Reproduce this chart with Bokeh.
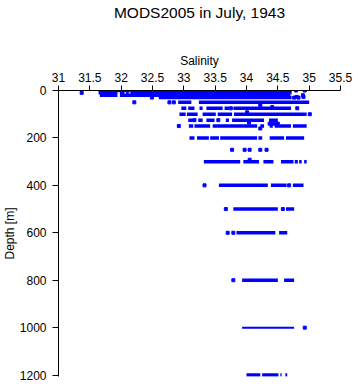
from bokeh.plotting import figure
from bokeh.models import Range1d, FixedTicker, Title
from bokeh.embed import file_html
from bokeh.resources import INLINE

# ---- data ----
x_ticks = [31, 31.5, 32, 32.5, 33, 33.5, 34, 34.5, 35, 35.5]
x_tick_labels = ["31", "31.5", "32", "32.5", "33", "33.5", "34", "34.5", "35", "35.5"]
y_ticks = [0, 200, 400, 600, 800, 1000, 1200]

# dense runs of observations: depth, salinity from, salinity to
seg_depth = [0,
             10, 10, 10, 10,
             20, 20,
             30,
             50, 50,
             75, 75, 75, 75, 75, 75,
             100, 100, 100, 100, 100,
             125, 125, 125, 125, 125, 125,
             150, 150, 150, 150, 150, 150, 150,
             200, 200, 200, 200, 200, 200, 200,
             300, 300, 300, 300, 300, 300, 300,
             400, 400, 400,
             500, 500,
             600, 600,
             800, 800,
             1200, 1200, 1200, 1200]
seg_s0 = [31.64,
          31.64, 31.98, 32.08, 32.15,
          31.66, 31.98,
          32.60,
          32.91, 33.24,
          32.96, 33.07, 33.25, 33.36, 33.65, 33.79,
          32.93, 33.05, 33.30, 33.54, 33.80,
          33.07, 33.23, 33.36, 33.67, 33.77, 34.36,
          33.08, 33.17, 33.46, 34.22, 34.37, 34.45, 34.74,
          33.09, 33.21, 33.42, 33.58, 34.19, 34.37, 34.63,
          33.32, 33.95, 34.27, 34.55, 34.77, 34.84, 34.92,
          33.56, 34.39, 34.74,
          33.79, 34.63,
          33.84, 34.52,
          33.93, 34.60,
          34.00, 34.25, 34.54, 34.62]
seg_s1 = [34.72,
          31.94, 32.05, 32.12, 34.72,
          31.94, 34.70,
          34.72,
          33.12, 35.00,
          33.04, 33.17, 33.30, 33.62, 33.72, 34.71,
          33.03, 33.22, 33.51, 33.77, 34.96,
          33.15, 33.30, 33.49, 33.72, 34.28, 34.50,
          33.15, 33.42, 34.17, 34.28, 34.42, 34.71, 34.96,
          33.17, 33.40, 33.56, 34.17, 34.25, 34.60, 34.92,
          33.90, 34.20, 34.43, 34.75, 34.82, 34.88, 34.96,
          34.34, 34.64, 34.91,
          34.50, 34.76,
          34.46, 34.65,
          34.50, 34.76,
          34.22, 34.51, 34.56, 34.65]

# the 1000 m run is drawn thinner
deep_depth = [1000]
deep_s0 = [33.93]
deep_s1 = [34.76]

# isolated observations
pt_depth = [10, 0, 0, 20, 27, 27, 30, 30, 30,
            50, 50, 50, 62, 70,
            75, 75, 92, 100,
            125, 125, 135, 140, 140, 140, 140, 160,
            150,
            250, 250, 250, 250, 250,
            292,
            400, 400,
            500, 500,
            600, 600,
            800,
            1000]
pt_sal = [31.37, 34.79, 34.93, 34.90, 34.80, 34.91, 34.76, 34.83, 32.49,
          32.21, 32.77, 32.84, 34.22, 34.41,
          33.75, 34.81, 34.01, 35.01,
          33.17, 33.55, 34.04, 34.37, 34.42, 34.47, 34.50, 34.22,
          32.92,
          33.77, 33.97, 34.05, 34.22, 34.32,
          34.05,
          33.33, 34.68,
          33.67, 34.58,
          33.70, 33.79,
          33.79,
          34.93]

TITLE = "MODS2005 in July, 1943"
XLABEL = "Salinity"
YLABEL = "Depth [m]"

FONT = "Liberation Sans"
BLUE = "#0000ff"

p = figure(width=353, height=384, output_backend="svg", toolbar_location=None,
           title=None,
           x_range=Range1d(31, 35.5), y_range=Range1d(1206, 0),
           x_axis_location="above",
           min_border_left=54, min_border_right=13,
           min_border_top=90, min_border_bottom=8)

p.outline_line_color = None
p.xgrid.visible = False
p.ygrid.visible = False
p.background_fill_color = "white"
p.border_fill_color = "white"

p.segment(x0=seg_s0, x1=seg_s1, y0=seg_depth, y1=seg_depth,
          line_color=BLUE, line_width=3.5, line_cap="butt")
p.segment(x0=deep_s0, x1=deep_s1, y0=deep_depth, y1=deep_depth,
          line_color=BLUE, line_width=2, line_cap="butt")
p.scatter(x=pt_sal, y=pt_depth, marker="square", size=3,
          fill_color=BLUE, line_color=BLUE)

xa = p.xaxis[0]
xa.ticker = FixedTicker(ticks=x_ticks)
xa.major_label_overrides = {t: l for t, l in zip(x_ticks, x_tick_labels)}
xa.axis_label = XLABEL
xa.axis_label_standoff = 2
xa.major_tick_out = 5
xa.major_label_standoff = 4

ya = p.yaxis[0]
ya.ticker = FixedTicker(ticks=y_ticks)
ya.major_tick_out = 6
ya.major_label_standoff = 6

for ax in (xa, ya):
    ax.minor_tick_line_color = None
    ax.major_tick_in = 0
    ax.axis_line_color = "black"
    ax.major_tick_line_color = "black"
    ax.major_label_text_font = FONT
    ax.major_label_text_font_size = "12px"
    ax.major_label_text_color = "black"
    ax.axis_label_text_font = FONT
    ax.axis_label_text_font_size = "12px"
    ax.axis_label_text_font_style = "normal"
    ax.axis_label_text_color = "black"

# y-axis title in the left panel
p.add_layout(Title(text=YLABEL, align="center", text_font=FONT,
                   text_font_size="12px", text_font_style="normal",
                   text_color="black", standoff=0), "left")
# empty spacer between the salinity label and the main title
p.add_layout(Title(text=" ", text_font_size="12px", standoff=14), "above")
p.add_layout(Title(text=TITLE, align="center", text_font=FONT,
                   text_font_size="15.5px", text_font_style="normal",
                   text_color="black", standoff=0), "above")

open("out.html", "w").write(file_html(p, INLINE))
